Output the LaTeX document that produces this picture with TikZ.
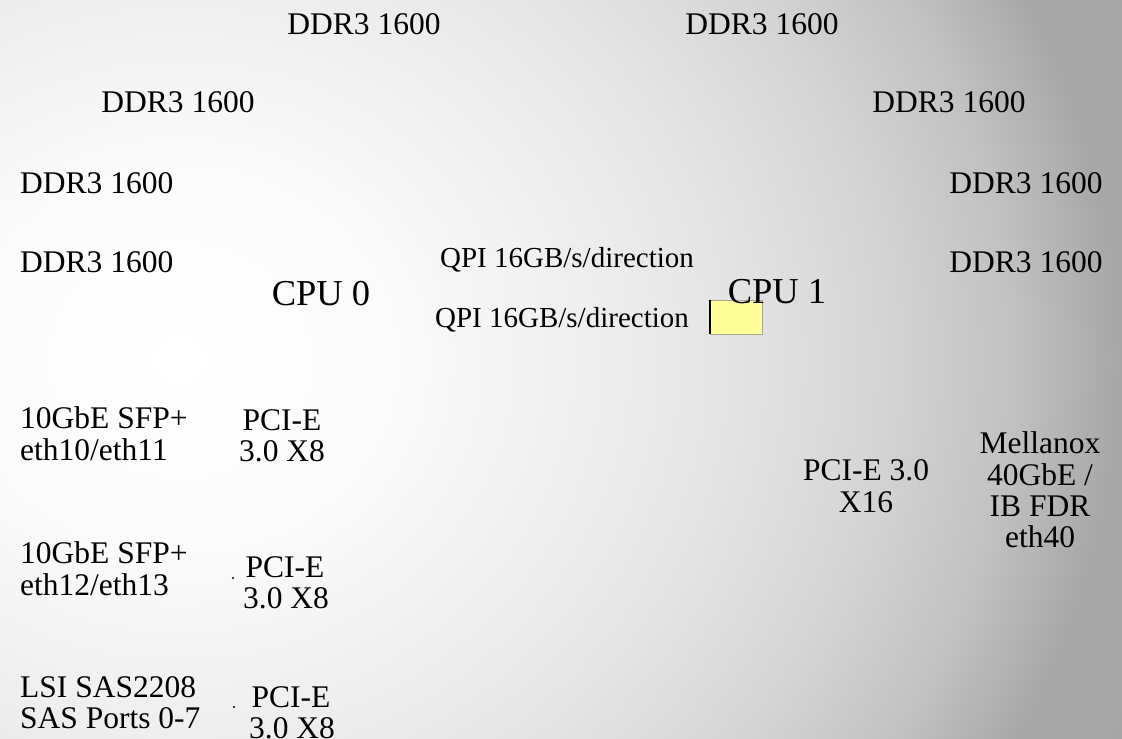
\documentclass[tikz,border=0pt]{standalone}
\usepackage{fontspec}
\setmainfont{Liberation Serif}
\definecolor{bgA}{HTML}{FFFFFF}
\definecolor{bgB}{HTML}{FBFBFB}
\definecolor{bgC}{HTML}{F1F1F1}
\definecolor{bgD}{HTML}{E6E6E6}
\definecolor{bgE}{HTML}{D6D6D6}
\definecolor{bgF}{HTML}{C2C2C2}
\definecolor{bgG}{HTML}{A8A8A8}
\definecolor{bgH}{HTML}{A0A0A0}
\definecolor{boxfill}{HTML}{FFFF99}
\definecolor{boxline}{HTML}{A8A890}
\pgfdeclareradialshading{slidebg}{\pgfpoint{0bp}{0bp}}{color(0bp)=(bgA); color(200bp)=(bgB); color(350bp)=(bgC); color(500bp)=(bgD); color(650bp)=(bgE); color(780bp)=(bgF); color(880bp)=(bgG); color(1300bp)=(bgH)}
\tikzset{
  txt/.style={inner sep=0pt, font=\fontsize{31.5}{32}\selectfont},
  lw/.style={txt, anchor=base west},
  lc/.style={txt, anchor=base},
  qpi/.style={inner sep=0pt, anchor=base, font=\fontsize{29}{30}\selectfont},
  cpu/.style={inner sep=0pt, anchor=base, font=\fontsize{36.5}{38}\selectfont},
}
\begin{document}
\begin{tikzpicture}[x=1pt,y=-1pt]
\useasboundingbox (0,0) rectangle (1122,739);
\begin{scope}
\clip (0,0) rectangle (1122,739);
\node[inner sep=0pt] (bg) at (180,360) {\scalebox{1.06}[0.95]{\pgfuseshading{slidebg}}};
\end{scope}
% DDR labels
\node[lc] (d1) at (364,34) {DDR3 1600};
\node[lc] (d2) at (762,34) {DDR3 1600};
\node[lc] (d3) at (178,112) {DDR3 1600};
\node[lc] (d4) at (949,112) {DDR3 1600};
\node[lw] (d5) at (20,193) {DDR3 1600};
\node[lc] (d6) at (1026,193) {DDR3 1600};
\node[lw] (d7) at (20,272) {DDR3 1600};
\node[lc] (d8) at (1026,272) {DDR3 1600};
% QPI
\node[qpi] (q1) at (567,267) {QPI 16GB/s/direction};
\node[qpi] (q2) at (562,327) {QPI 16GB/s/direction};
% yellow box
\node[draw=boxline, fill=boxfill, line width=0.6pt, minimum width=52pt, minimum height=34pt, inner sep=0pt] (yb) at (736,317) {};
\draw[line width=2.2pt, black] (yb.north west) -- (yb.south west);
% CPUs
\node[cpu] (c0) at (321,305) {CPU 0};
\node[cpu] (c1) at (777,303) {CPU 1};
% left column
\node[lw] (n1a) at (20,428) {10GbE SFP+};
\node[lw] (n1b) at (20,460) {eth10/eth11};
\node[lc] (p1a) at (282,430) {PCI-E};
\node[lc] (p1b) at (282,461) {3.0 X8};
\node[lw] (n2a) at (20,563) {10GbE SFP+};
\node[lw] (n2b) at (20,595) {eth12/eth13};
\node[lc] (p2a) at (285,577) {PCI-E};
\node[lc] (p2b) at (286,608) {3.0 X8};
\node[lw] (s1a) at (20,697) {LSI SAS2208};
\node[lw] (s1b) at (20,728) {SAS Ports 0-7};
\node[lc] (p3a) at (291,707) {PCI-E};
\node[lc] (p3b) at (292,738) {3.0 X8};
\fill (233,578) circle (1.2pt);
\fill (234,707) circle (1.2pt);
% right column
\node[lc] (x1a) at (866,480) {PCI-E 3.0};
\node[lc] (x1b) at (866,512) {X16};
\node[lc] (m1) at (1040,453) {Mellanox};
\node[lc] (m2) at (1040,485) {40GbE /};
\node[lc] (m3) at (1040,516) {IB FDR};
\node[lc] (m4) at (1040,547) {eth40};
\end{tikzpicture}
\end{document}
